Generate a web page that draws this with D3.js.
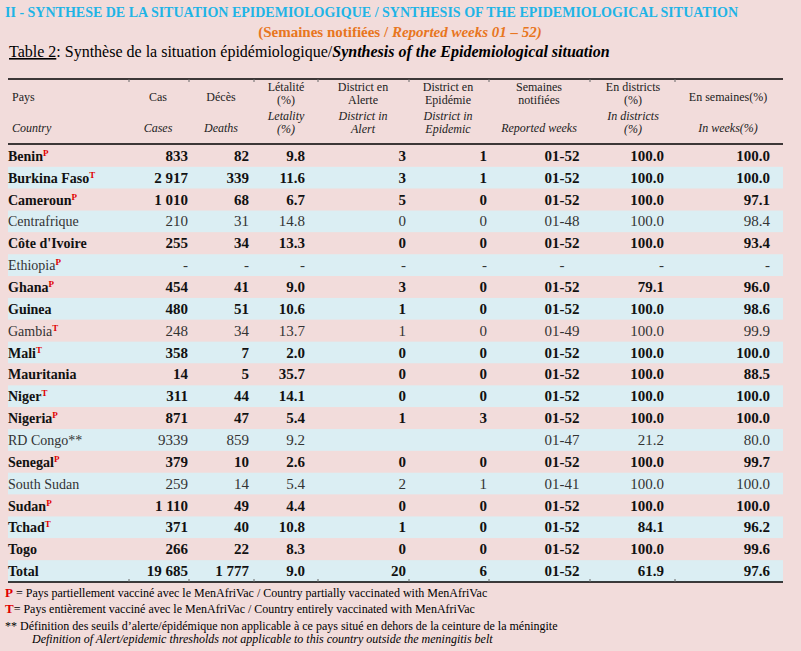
<!DOCTYPE html>
<html><head><meta charset="utf-8">
<script src="https://cdn.jsdelivr.net/npm/d3@7"></script>
<style>body{margin:0;background:#f2dcdb}svg{font-family:"Liberation Serif",serif}</style>
</head><body><div id="chart"></div>
<script>
let countries = ["Benin","Burkina Faso","Cameroun","Centrafrique","Côte d'Ivoire","Ethiopia","Ghana","Guinea","Gambia","Mali","Mauritania","Niger","Nigeria","RD Congo**","Senegal","South Sudan","Sudan","Tchad","Togo"];
let marks = ["P","T","P","","","P","P","","T","T","","T","P","","P","","P","T",""];
let lightRows = [3,5,8,13,15];
let cases = ["833","2 917","1 010","210","255","-","454","480","248","358","14","311","871","9339","379","259","1 110","371","266"];
let deaths = ["82","339","68","31","34","-","41","51","34","7","5","44","47","859","10","14","49","40","22"];
let lethality = ["9.8","11.6","6.7","14.8","13.3","-","9.0","10.6","13.7","2.0","35.7","14.1","5.4","9.2","2.6","5.4","4.4","10.8","8.3"];
let alert = ["3","3","5","0","0","-","3","1","1","0","0","0","1","","0","2","0","1","0"];
let epidemic = ["1","1","0","0","0","-","0","0","0","0","0","0","3","","0","1","0","0","0"];
let weeks = ["01-52","01-52","01-52","01-48","01-52","-","01-52","01-52","01-49","01-52","01-52","01-52","01-52","01-47","01-52","01-41","01-52","01-52","01-52"];
let inDistricts = ["100.0","100.0","100.0","100.0","100.0","-","79.1","100.0","100.0","100.0","100.0","100.0","100.0","21.2","100.0","100.0","100.0","84.1","100.0"];
let inWeeks = ["100.0","100.0","97.1","98.4","93.4","-","96.0","98.6","99.9","100.0","88.5","100.0","100.0","80.0","99.7","100.0","100.0","96.2","99.6"];
let total = ["Total","19 685","1 777","9.0","20","6","01-52","61.9","97.6"];

let svg = d3.select("#chart").append("svg").attr("width",801).attr("height",651);
svg.append("rect").attr("width",801).attr("height",651).attr("fill","#f2dcdb");

svg.append("text").attr("x",5).attr("y",17).attr("fill","#1fb4e6").attr("font-size",14).attr("font-weight","bold")
  .text("II - SYNTHESE DE LA SITUATION EPIDEMIOLOGIQUE / SYNTHESIS OF THE EPIDEMIOLOGICAL SITUATION");
let t2 = svg.append("text").attr("x",400).attr("y",37).attr("text-anchor","middle").attr("fill","#e8761e").attr("font-size",15).attr("font-weight","bold");
t2.append("tspan").text("(Semaines notifiées / ");
t2.append("tspan").attr("font-style","italic").text("Reported weeks 01 – 52)");
let t3 = svg.append("text").attr("x",9).attr("y",57).attr("font-size",16);
t3.append("tspan").attr("text-decoration","underline").text("Table 2");
t3.append("tspan").text(": Synthèse de la situation épidémiologique/");
t3.append("tspan").attr("font-style","italic").attr("font-weight","bold").text("Synthesis of the Epidemiological situation");

let rowCount = countries.length + 1;
let y = d3.scaleBand().domain(d3.range(rowCount)).range([145,582]);
let x0 = 8, x1 = 783;

svg.selectAll(".rowbg").data(d3.range(rowCount)).enter().append("rect")
  .attr("x",x0).attr("width",x1-x0).attr("y",d=>y(d)).attr("height",y.bandwidth())
  .attr("fill",d=>d%2==1?"#dbeef3":"#f2dcdb");

let cols = [["start",8],["end",188],["end",249],["end",305],["end",406],["end",487],["middle",562],["end",664],["end",770]];
let seps = [129,189,254,318,409,489,590,675];

let hdrTop = ["Pays","Cas","Décès",["Létalité","(%)"],["District en","Alerte"],["District en","Epidémie"],["Semaines","notifiées"],["En districts","(%)"],"En semaines(%)"];
let hdrBot = ["Country","Cases","Deaths",["Letality","(%)"],["District in","Alert"],["District in","Epidemic"],"Reported weeks",["In districts","(%)"],"In weeks(%)"];
let hdrX = [12,158,221,286,363,448,539,633,728];

function hdr(lines, xx, yy, italic, anchor) {
  let t = svg.append("text").attr("x",xx).attr("y",yy).attr("font-size",12).attr("text-anchor",anchor)
    .attr("font-style",italic?"italic":"normal").attr("fill","#222");
  (Array.isArray(lines)?lines:[lines]).forEach((l,i)=>t.append("tspan").attr("x",xx).attr("dy",i?13:0).text(l));
}
hdrTop.forEach((h,i)=>hdr(h,hdrX[i],Array.isArray(h)?91:101,false,i?"middle":"start"));
hdrBot.forEach((h,i)=>hdr(h,hdrX[i],Array.isArray(h)?120:132,true,i?"middle":"start"));

let lineTop = 79;
[lineTop,144,582].forEach(ly=>svg.append("line").attr("x1",x0).attr("x2",x1).attr("y1",ly).attr("y2",ly).attr("stroke","#000").attr("stroke-width",1.5));
seps.forEach(s=>{
  svg.append("line").attr("x1",s).attr("x2",s).attr("y1",lineTop).attr("y2",lineTop+3).attr("stroke","#666");
  svg.append("line").attr("x1",s).attr("x2",s).attr("y1",579).attr("y2",582).attr("stroke","#666");
});

let rows = countries.map((c,i)=>[c,cases[i],deaths[i],lethality[i],alert[i],epidemic[i],weeks[i],inDistricts[i],inWeeks[i]]);
rows.push(total);
rows.forEach((r,i)=>{
  let light = lightRows.includes(i);
  let cy = y(i)+y.bandwidth()/2+5;
  r.forEach((v,j)=>{
    let t = svg.append("text").attr("x",cols[j][1]).attr("y",cy).attr("text-anchor",cols[j][0])
      .attr("font-size",j==0?14:15).attr("font-weight",light?"normal":"bold").attr("fill",light?"#333":"#111").text(v);
    if (j==0 && i<marks.length && marks[i]) {
      t.append("tspan").attr("fill","#e00000").attr("font-size",9).attr("font-weight","bold").attr("dy",-5).text(marks[i]);
    }
  });
});

let f1 = svg.append("text").attr("x",5).attr("y",597).attr("font-size",12);
f1.append("tspan").attr("fill","#e00000").attr("font-weight","bold").attr("font-size",13).text("P");
f1.append("tspan").text(" = Pays partiellement vacciné avec le MenAfriVac / Country partially  vaccinated with MenAfriVac");
let f2 = svg.append("text").attr("x",5).attr("y",613).attr("font-size",12);
f2.append("tspan").attr("fill","#e00000").attr("font-weight","bold").attr("font-size",13).text("T");
f2.append("tspan").text("= Pays entièrement vacciné avec le MenAfriVac / Country entirely  vaccinated with MenAfriVac");
svg.append("text").attr("x",5).attr("y",630).attr("font-size",12)
  .text("** Définition des seuils d’alerte/épidémique non applicable à ce pays situé en dehors de la ceinture de la méningite");
svg.append("text").attr("x",32).attr("y",643).attr("font-size",12).attr("font-style","italic")
  .text("Definition of Alert/epidemic thresholds not applicable to this country outside the meningitis belt");
</script></body></html>
